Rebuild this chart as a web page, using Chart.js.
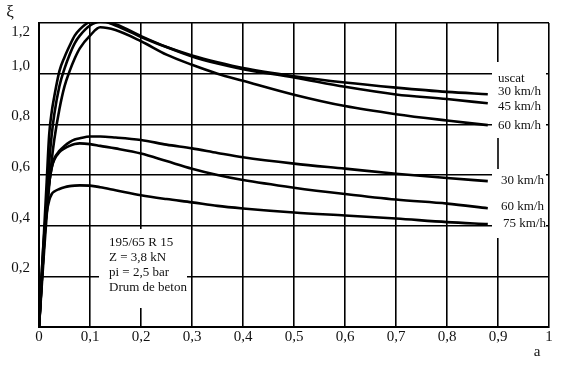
<!DOCTYPE html>
<html>
<head>
<meta charset="utf-8">
<script src="https://cdn.jsdelivr.net/npm/chart.js@4/dist/chart.umd.min.js"></script>
<style>
  html, body { margin: 0; padding: 0; background: #fff; }
  #c { display: block; }
</style>
</head>
<body>
<canvas id="c" width="583" height="367"></canvas>
<script>
// ---- data ----
const slip = [0, 0.005, 0.01, 0.015, 0.02, 0.025, 0.03, 0.04, 0.05, 0.06, 0.07, 0.08, 0.1, 0.12, 0.15, 0.2, 0.25, 0.3, 0.35, 0.4, 0.5, 0.6, 0.7, 0.8, 0.88];
const dry30 = [0, 0.19, 0.38, 0.57, 0.76, 0.85, 0.91, 1.01, 1.065, 1.11, 1.15, 1.175, 1.205, 1.21, 1.19, 1.145, 1.105, 1.072, 1.045, 1.022, 0.99, 0.965, 0.945, 0.928, 0.919];
const dry45 = [0, 0.17, 0.34, 0.5, 0.65, 0.76, 0.84, 0.95, 1.02, 1.075, 1.12, 1.15, 1.19, 1.205, 1.195, 1.148, 1.105, 1.068, 1.04, 1.018, 0.985, 0.948, 0.918, 0.9, 0.883];
const dry60 = [0, 0.15, 0.3, 0.44, 0.56, 0.66, 0.74, 0.86, 0.95, 1.01, 1.06, 1.1, 1.15, 1.183, 1.172, 1.128, 1.075, 1.035, 1.0, 0.972, 0.917, 0.872, 0.84, 0.815, 0.797];
const wet30 = [0, 0.17, 0.33, 0.47, 0.57, 0.63, 0.665, 0.695, 0.715, 0.73, 0.74, 0.745, 0.752, 0.752, 0.748, 0.738, 0.72, 0.705, 0.687, 0.67, 0.645, 0.625, 0.605, 0.588, 0.576];
const wet60 = [0, 0.17, 0.33, 0.47, 0.57, 0.63, 0.66, 0.69, 0.705, 0.715, 0.722, 0.725, 0.722, 0.715, 0.705, 0.685, 0.655, 0.625, 0.6, 0.58, 0.55, 0.525, 0.503, 0.487, 0.469];
const wet75 = [0, 0.2, 0.36, 0.45, 0.5, 0.525, 0.535, 0.545, 0.552, 0.556, 0.558, 0.559, 0.558, 0.552, 0.54, 0.52, 0.505, 0.492, 0.478, 0.468, 0.452, 0.44, 0.428, 0.414, 0.406];

const xTicks = [0, 0.1, 0.2, 0.3, 0.4, 0.5, 0.6, 0.7, 0.8, 0.9, 1];
const xTickLabels = ["0", "0,1", "0,2", "0,3", "0,4", "0,5", "0,6", "0,7", "0,8", "0,9", "1"];
const yTicks = [0.2, 0.4, 0.6, 0.8, 1.0, 1.2];
const yTickLabels = ["0,2", "0,4", "0,6", "0,8", "1,0", "1,2"];

const seriesNames = ["30 km/h", "45 km/h", "60 km/h", "30 km/h", "60 km/h", "75 km/h"];
const seriesValues = [dry30, dry45, dry60, wet30, wet60, wet75];
const seriesLabelY = [92, 107, 126, 181, 207, 224];
const seriesLabelX = [498, 498, 498, 501, 501, 503];
const infoLines = ["195/65 R 15", "Z = 3,8 kN", "pi = 2,5 bar", "Drum de beton"];

const FONT = '"Liberation Serif", "Times New Roman", serif';

const datasets = seriesValues.map((vals, i) => ({
  label: seriesNames[i],
  data: slip.map((a, k) => ({ x: a, y: vals[k] })),
  borderColor: '#000',
  borderWidth: 2.6,
  pointRadius: 0,
  fill: false,
  cubicInterpolationMode: 'monotone'
}));

const overlay = {
  id: 'overlay',
  beforeDatasetsDraw(chart) {
    const ctx = chart.ctx;
    const xs = chart.scales.x;
    ctx.save();
    ctx.fillStyle = '#fff';
    ctx.fillRect(99, 229, 88, 79);
    ctx.fillRect(492, 62, 54, 176);
    ctx.strokeStyle = '#000';
    ctx.lineWidth = 1.6;
    const x9 = xs.getPixelForValue(0.9);
    ctx.beginPath();
    ctx.moveTo(x9, 138);
    ctx.lineTo(x9, 169);
    ctx.stroke();
    ctx.restore();
  },
  afterDraw(chart) {
    const ctx = chart.ctx;
    const xs = chart.scales.x, ys = chart.scales.y;
    const area = chart.chartArea;
    ctx.save();
    ctx.fillStyle = '#111';
    ctx.textBaseline = 'middle';
    ctx.font = '15px ' + FONT;
    ctx.textAlign = 'center';
    xTicks.forEach((v, i) => {
      ctx.fillText(xTickLabels[i], xs.getPixelForValue(v), 337);
    });
    ctx.textAlign = 'right';
    yTicks.forEach((v, i) => {
      const py = Math.max(ys.getPixelForValue(v) - 8, area.top + 9);
      ctx.fillText(yTickLabels[i], 30, py);
    });
    ctx.textAlign = 'center';
    ctx.fillText('a', 537, 352);
    ctx.font = '17px ' + FONT;
    ctx.fillText('ξ', 10, 13);
    ctx.font = '13px ' + FONT;
    ctx.textAlign = 'left';
    ctx.fillText('uscat', 498, 79);
    seriesNames.forEach((n, i) => {
      ctx.fillText(n, seriesLabelX[i], seriesLabelY[i]);
    });
    infoLines.forEach((t, i) => {
      ctx.fillText(t, 109, 243 + i * 14.8);
    });
    ctx.restore();
  }
};

new Chart(document.getElementById('c'), {
  type: 'line',
  data: { datasets },
  options: {
    responsive: false,
    animation: false,
    devicePixelRatio: 1,
    layout: { padding: { left: 39, right: 34, top: 23, bottom: 40 } },
    plugins: { legend: { display: false }, tooltip: { enabled: false } },
    scales: {
      x: {
        type: 'linear', min: 0, max: 1,
        afterBuildTicks: (s) => { s.ticks = xTicks.map(v => ({ value: v })); },
        ticks: { display: false },
        grid: { color: '#000', lineWidth: 1.6, drawTicks: false },
        border: { display: true, color: '#000', width: 2 }
      },
      y: {
        type: 'linear', min: 0, max: 1.2,
        afterBuildTicks: (s) => { s.ticks = [0].concat(yTicks).map(v => ({ value: v })); },
        ticks: { display: false },
        grid: { color: '#000', lineWidth: 1.6, drawTicks: false },
        border: { display: true, color: '#000', width: 2 }
      }
    }
  },
  plugins: [overlay]
});
</script>
</body>
</html>
